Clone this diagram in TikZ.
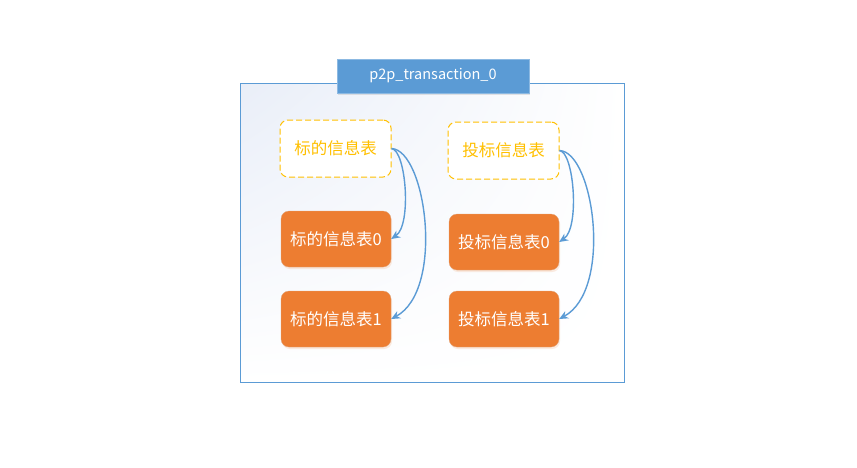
\documentclass[tikz,border=0pt]{standalone}
\usepackage{fontspec}
\setmainfont{Noto Sans CJK SC}
\usetikzlibrary{shadows,shadings,arrows.meta}
\definecolor{tblue}{HTML}{5B9BD5}
\definecolor{torange}{HTML}{ED7D31}
\definecolor{tyellow}{HTML}{FFC000}
\definecolor{bgtint}{HTML}{E9EEF8}
\begin{document}
\begin{tikzpicture}[x=1pt,y=-1pt,
  dashbox/.style={draw=tyellow,line width=1pt,dash pattern=on 6pt off 3pt,rounded corners=8pt,fill=white,minimum width=111pt,minimum height=57pt,text=tyellow,font=\fontsize{16.5}{19}\selectfont,inner sep=0pt},
  orbox/.style={fill=torange,draw=torange!85!black!60,line width=0.3pt,rounded corners=8pt,minimum width=110pt,minimum height=56pt,text=white,font=\fontsize{16.5}{19}\selectfont,inner sep=0pt,drop shadow={shadow xshift=1pt,shadow yshift=-2pt,opacity=0.15,fill=torange}},
  conn/.style={draw=tblue,line width=1.4pt,-{Stealth[length=9pt,width=8pt]}}]
\useasboundingbox (0,0) rectangle (857,467);
\fill[white] (0,0) rectangle (857,467);
% frame
\shade[upper left=bgtint,upper right=white,lower left=white,lower right=white] (240,83) rectangle (624,382);
\node[draw=tblue,line width=0.9pt,minimum width=384pt,minimum height=299pt,anchor=north west,inner sep=0pt] (frame) at (240,83) {};
\node[fill=tblue,draw=tblue!70!white,minimum width=192pt,minimum height=34pt,inner sep=0pt,text=white,font=\fontsize{14.5}{17}\selectfont,drop shadow={shadow xshift=1pt,shadow yshift=-2pt,opacity=0.2}] (title) at (433,76) {p2p\_transaction\_0};
% boxes
\node[dashbox] (d1) at (335.5,148.5) {标的信息表};
\node[dashbox] (d2) at (503.5,150.5) {投标信息表};
\node[orbox] (a0) at (336,239) {标的信息表0};
\node[orbox] (a1) at (336,319) {标的信息表1};
\node[orbox] (b0) at (504,242) {投标信息表0};
\node[orbox] (b1) at (504,319) {投标信息表1};
% connectors
\draw[conn] (d1.east) .. controls (406,150) and (412,225) .. (a0.east);
\draw[conn] (d1.east) .. controls (426,150) and (445,290) .. (a1.east);
\draw[conn] (d2.east) .. controls (574,152) and (580,228) .. (b0.east);
\draw[conn] (d2.east) .. controls (594,152) and (613,290) .. (b1.east);
\end{tikzpicture}
\end{document}
